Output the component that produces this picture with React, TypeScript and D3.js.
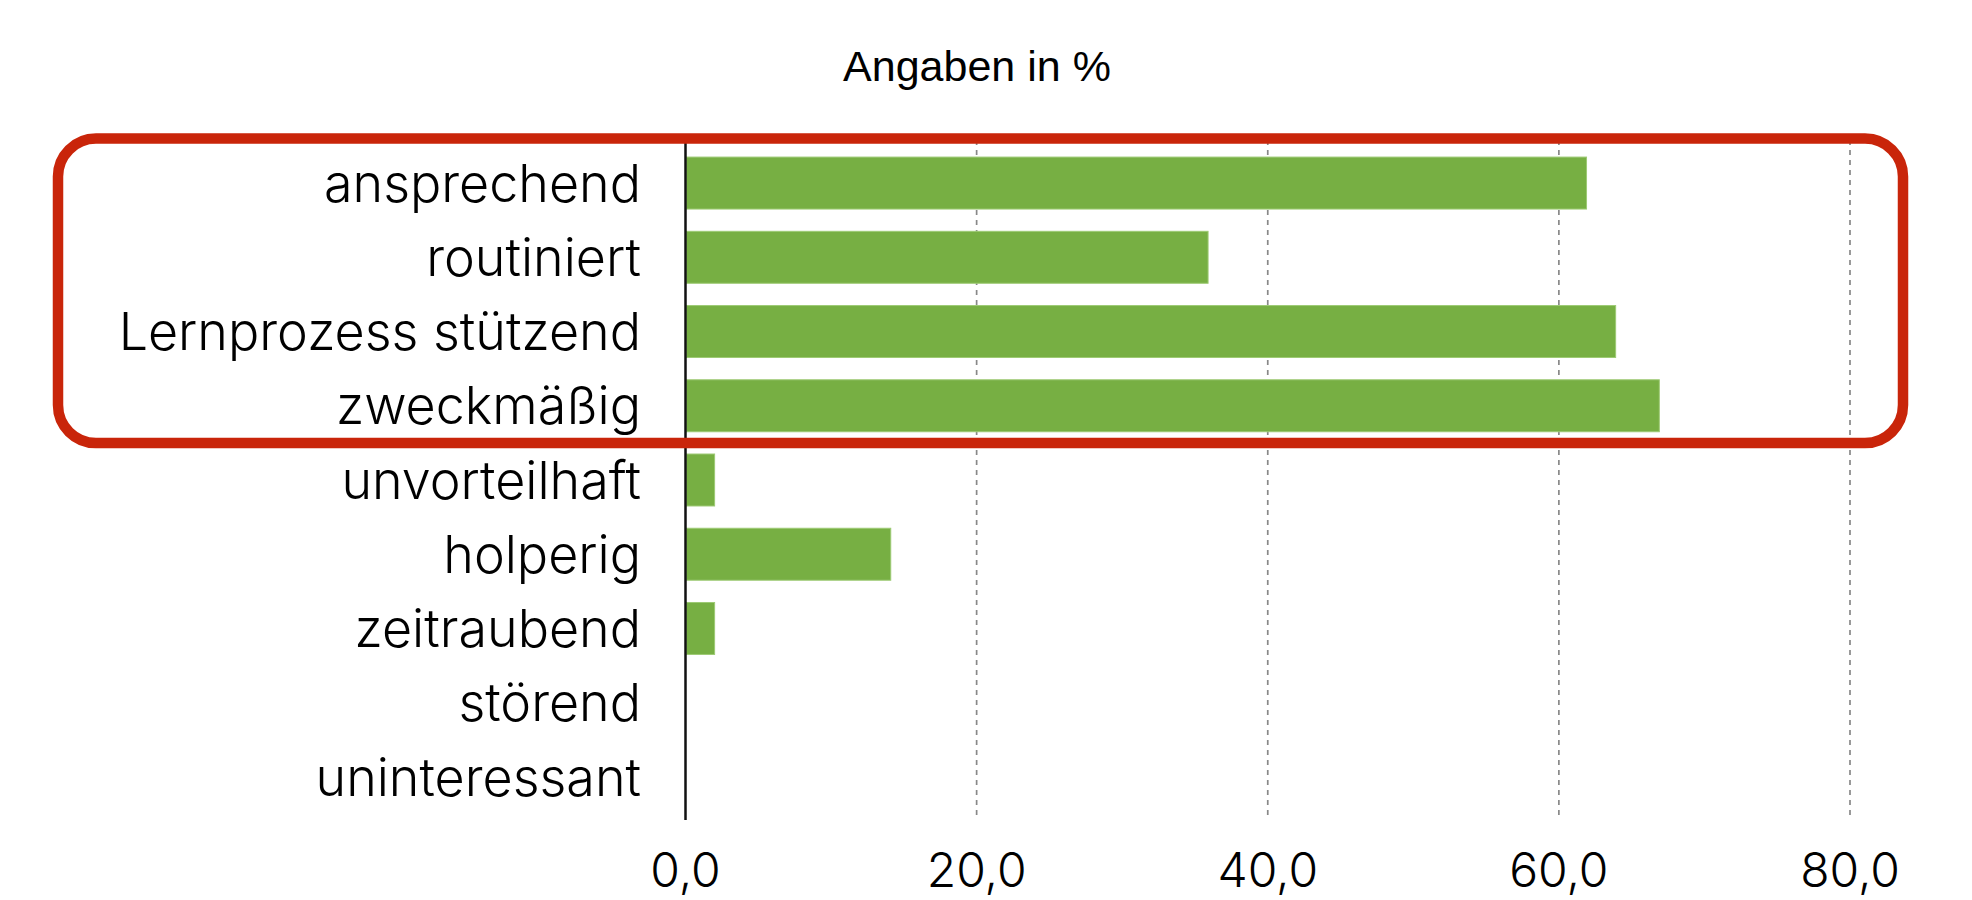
import React from 'react';
import * as d3 from 'd3';

// Data (percent of responses)
const categories = [
  'ansprechend',
  'routiniert',
  'Lernprozess stützend',
  'zweckmäßig',
  'unvorteilhaft',
  'holperig',
  'zeitraubend',
  'störend',
  'uninteressant',
];
const values = [61.9, 35.9, 63.9, 66.9, 2.0, 14.1, 2.0, 0, 0];
const xTicks = [0, 20, 40, 60, 80];
const highlighted = ['ansprechend', 'routiniert', 'Lernprozess stützend', 'zweckmäßig'];
const subtitle = 'Angaben in %';

const W = 1972;
const H = 900;
const margin = { left: 685.5, right: 122, top: 140, bottom: 80 };

const locale = d3.formatLocale({ decimal: ',', thousands: '.', grouping: [3], currency: ['', '€'] });
const fmt = locale.format('.1f');

const App = () => {
  const x = d3.scaleLinear().domain([0, 80]).range([margin.left, W - margin.right]);
  const y = d3
    .scaleBand<string>()
    .domain(categories)
    .range([margin.top, H - margin.bottom])
    .paddingInner(0.3)
    .paddingOuter(0.23);

  const labelFont = '"Inter", "Liberation Sans", sans-serif';

  // box around the highlighted rows
  const boxTop = (y(highlighted[0]) ?? 0) - 18.5;
  const boxBottom = (y(highlighted[highlighted.length - 1]) ?? 0) + y.bandwidth() + 11.3;

  return (
    <svg
      width={W}
      height={H}
      style={{ position: 'absolute', left: 0, top: 0, background: '#fff' }}
    >
      <text
        x={977}
        y={80.7}
        textAnchor="middle"
        fontFamily='"Liberation Sans", Arial, sans-serif'
        fontSize={43}
        fill="#000"
      >
        {subtitle}
      </text>

      {/* dashed grid */}
      {xTicks.slice(1).map(t => (
        <line
          key={t}
          x1={x(t)}
          x2={x(t)}
          y1={margin.top}
          y2={H - margin.bottom - 2}
          stroke="#888"
          strokeWidth={1.7}
          strokeDasharray="5 5"
        />
      ))}

      {/* bars */}
      {categories.map((c, i) =>
        values[i] > 0 ? (
          <rect
            key={c}
            x={x(0) + 1}
            y={y(c)}
            width={x(values[i]) - x(0) - 1}
            height={y.bandwidth()}
            fill="#77af43"
            stroke="#9dca74"
            strokeWidth={1}
          />
        ) : null
      )}

      {/* y axis line */}
      <line x1={x(0)} x2={x(0)} y1={margin.top} y2={H - margin.bottom} stroke="#111" strokeWidth={2.5} />

      {/* category labels */}
      {categories.map(c => (
        <text
          key={c}
          x={641}
          y={(y(c) ?? 0) + y.bandwidth() / 2 + 18.6}
          textAnchor="end"
          fontFamily={labelFont}
          fontWeight={300}
          fontSize={52}
          fill="#000"
        >
          {c}
        </text>
      ))}

      {/* x tick labels */}
      {xTicks.map(t => (
        <text
          key={t}
          x={x(t)}
          y={887}
          textAnchor="middle"
          fontFamily={labelFont}
          fontWeight={300}
          fontSize={48}
          fill="#000"
        >
          {fmt(t)}
        </text>
      ))}

      {/* highlight box */}
      <rect
        x={58}
        y={boxTop}
        width={1845}
        height={boxBottom - boxTop}
        rx={38}
        ry={38}
        fill="none"
        stroke="#c9250a"
        strokeWidth={10.5}
      />
    </svg>
  );
};

export default App;
